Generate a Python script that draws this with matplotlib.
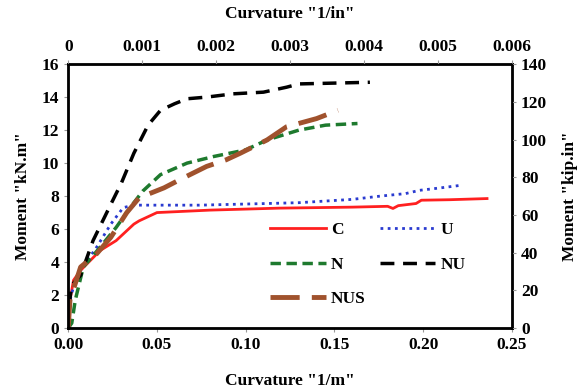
import matplotlib.pyplot as plt

plt.rcParams['font.family'] = ['Liberation Serif', 'DejaVu Serif']
plt.rcParams['font.weight'] = 'bold'
plt.rcParams['axes.labelweight'] = 'bold'
plt.rcParams['font.size'] = 12.5

# moment-curvature data, curvature in 1/m, moment in kN.m
c_x = [0, 0.001, 0.003, 0.007, 0.018, 0.027, 0.037, 0.040, 0.050, 0.080, 0.119, 0.160, 0.180, 0.183, 0.186, 0.196, 0.199, 0.215, 0.236]
c_y = [0, 1.7, 2.9, 3.5, 4.7, 5.3, 6.3, 6.5, 7.0, 7.15, 7.27, 7.33, 7.38, 7.25, 7.42, 7.55, 7.75, 7.78, 7.85]

u_x = [0, 0.001, 0.003, 0.007, 0.016, 0.024, 0.031, 0.037, 0.074, 0.112, 0.130, 0.160, 0.176, 0.190, 0.198, 0.210, 0.221]
u_y = [0, 1.7, 2.5, 3.5, 4.9, 6.3, 7.3, 7.45, 7.45, 7.55, 7.6, 7.8, 8.0, 8.15, 8.35, 8.5, 8.65]

n_x = [0, 0.002, 0.004, 0.0085, 0.018, 0.027, 0.037, 0.042, 0.052, 0.067, 0.082, 0.100, 0.112, 0.130, 0.145, 0.163]
n_y = [0, 0.3, 1.7, 3.7, 4.9, 6.1, 7.6, 8.3, 9.3, 10.0, 10.4, 10.8, 11.4, 12.0, 12.3, 12.4]

nu_x = [0, 0.001, 0.002, 0.007, 0.014, 0.024, 0.030, 0.037, 0.045, 0.052, 0.060, 0.067, 0.078, 0.093, 0.110, 0.123, 0.130, 0.150, 0.170]
nu_y = [0, 1.8, 2.6, 3.2, 5.3, 7.5, 8.8, 10.6, 12.3, 13.2, 13.6, 13.9, 14.0, 14.2, 14.3, 14.6, 14.8, 14.85, 14.9]

nus_x = [0, 0.001, 0.007, 0.016, 0.024, 0.033, 0.040, 0.054, 0.063, 0.078, 0.089, 0.097, 0.112, 0.123, 0.140, 0.152]
nus_y = [0, 1.7, 3.7, 4.5, 5.5, 7.0, 7.9, 8.5, 9.0, 9.8, 10.2, 10.6, 11.4, 12.2, 12.7, 13.2]

fig = plt.figure(figsize=(5.83, 3.91), dpi=100)
ax = fig.add_axes([0.117, 0.161, 0.761, 0.675])

h_c, = ax.plot(c_x, c_y, color='#ff2020', lw=2, label='C')
h_u, = ax.plot(u_x, u_y, color='#2a3bd0', lw=2, ls=(0, (1, 1.6)), label='U')
h_n, = ax.plot(n_x, n_y, color='#1e7a2e', lw=2.5, ls=(0, (3, 1.6)), label='N')
h_nu, = ax.plot(nu_x, nu_y, color='black', lw=2.5, ls=(0, (4, 2.5)), label='NU')
h_nus, = ax.plot(nus_x, nus_y, color='#a0522d', lw=3.5, ls=(0, (6, 2.5)), label='NUS')

ax.set_xlim(0, 0.25)
ax.set_ylim(0, 16)
ax.set_xticks([0, 0.05, 0.10, 0.15, 0.20, 0.25])
ax.set_xticklabels(['0.00', '0.05', '0.10', '0.15', '0.20', '0.25'])
ax.set_yticks(range(0, 17, 2))
ax.set_xlabel('Curvature "1/m"', fontsize=12.5, labelpad=14)
ax.set_ylabel('Moment "kN.m"', fontsize=12.5, labelpad=8)
for s in ax.spines.values():
    s.set_linewidth(2)
ax.tick_params(length=3, color='#999999')

ax_top = ax.twiny()
ax_top.set_xlim(0, 0.006)
ax_top.set_xticks([0, 0.001, 0.002, 0.003, 0.004, 0.005, 0.006])
ax_top.set_xticklabels(['0', '0.001', '0.002', '0.003', '0.004', '0.005', '0.006'])
ax_top.set_xlabel('Curvature "1/in"', fontsize=12.5, labelpad=15)
ax_top.tick_params(length=3, color='#999999')

ax_r = ax.twinx()
ax_r.set_ylim(0, 140)
ax_r.set_yticks(range(0, 141, 20))
ax_r.set_ylabel('Moment "kip.in"', fontsize=12.5, labelpad=11)
ax_r.tick_params(length=3, color='#999999')

# row-major order: C U / N NU / NUS
ax.legend([h_c, h_n, h_nus, h_u, h_nu], ['C', 'N', 'NUS', 'U', 'NU'],
          ncol=2, loc='upper left', bbox_to_anchor=(0.42, 0.46), frameon=False,
          handlelength=3.2, handletextpad=0.3, columnspacing=0.8,
          labelspacing=1.05, fontsize=12.5)

fig.savefig('out.png', dpi=100)
